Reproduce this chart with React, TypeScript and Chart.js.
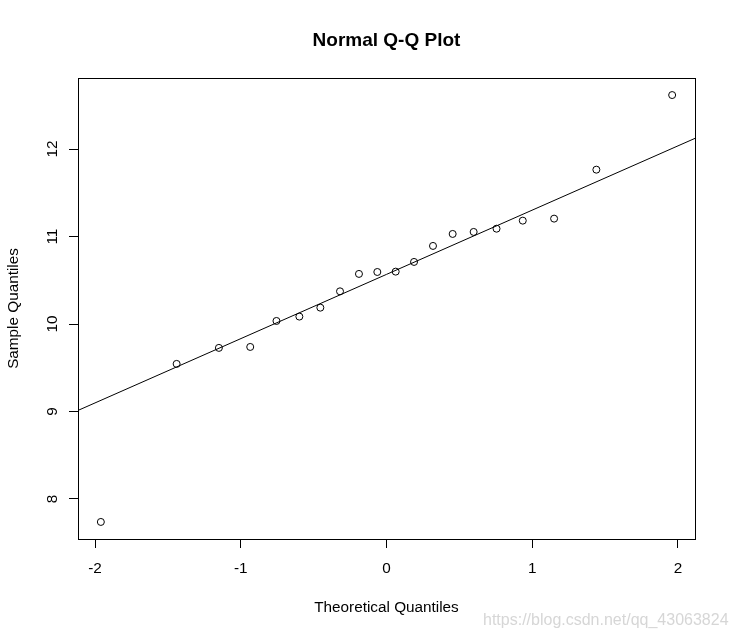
import React, { useEffect, useRef } from "react";
import { Chart, registerables } from "chart.js";

Chart.register(...registerables);

// Data
const theoreticalQuantiles = [
  -1.96, -1.44, -1.15, -0.935, -0.755, -0.598, -0.454, -0.319, -0.189, -0.063,
  0.063, 0.189, 0.319, 0.454, 0.598, 0.755, 0.935, 1.15, 1.44, 1.96,
];
const sampleQuantiles = [
  7.737, 9.544, 9.727, 9.738, 10.035, 10.085, 10.187, 10.374, 10.573, 10.595,
  10.599, 10.71, 10.893, 11.03, 11.053, 11.09, 11.182, 11.205, 11.765, 12.618,
];
const refLineX = [-2.1168, 2.1168];
const refLineY = [9.012, 12.123];
const xRange = [-2.1168, 2.1168];
const yRange = [7.542, 12.813];
const tickStep = 1;

const titleText = "Normal Q-Q Plot";
const xTitle = "Theoretical Quantiles";
const yTitle = "Sample Quantiles";
const watermark = "https://blog.csdn.net/qq_43063824";

const FONT = "'Liberation Sans', Arial, sans-serif";

const decorPlugin = {
  id: "rDecor",
  afterDraw(chart: any) {
    const { ctx, chartArea, scales } = chart;
    ctx.save();
    // box
    ctx.strokeStyle = "#000";
    ctx.lineWidth = 1;
    ctx.strokeRect(
      Math.round(chartArea.left) + 0.5,
      Math.round(chartArea.top) + 0.5,
      Math.round(chartArea.right - chartArea.left),
      Math.round(chartArea.bottom - chartArea.top)
    );
    // main title
    ctx.fillStyle = "#000";
    ctx.font = `bold 19px ${FONT}`;
    ctx.textAlign = "center";
    ctx.textBaseline = "alphabetic";
    ctx.fillText(titleText, (chartArea.left + chartArea.right) / 2, 46);
    // y tick labels (rotated, as R does)
    const ys = scales.y;
    ctx.font = `15.3px ${FONT}`;
    ys.ticks.forEach((t: any) => {
      const py = ys.getPixelForValue(t.value);
      ctx.save();
      ctx.translate(57, py);
      ctx.rotate(-Math.PI / 2);
      ctx.textAlign = "center";
      ctx.textBaseline = "alphabetic";
      ctx.fillText(String(t.value), 0, 0);
      ctx.restore();
    });
    // watermark
    ctx.font = `16px ${FONT}`;
    ctx.fillStyle = "rgba(200,200,200,0.75)";
    ctx.textAlign = "left";
    ctx.fillText(watermark, 483, 625);
    ctx.restore();
  },
};

export default function App() {
  const ref = useRef<HTMLCanvasElement | null>(null);
  useEffect(() => {
    if (!ref.current) return;
    const chart = new Chart(ref.current, {
      type: "scatter",
      data: {
        datasets: [
          {
            label: "points",
            data: theoreticalQuantiles.map((x, i) => ({ x, y: sampleQuantiles[i] })),
            pointStyle: "circle",
            pointRadius: 3.5,
            pointHoverRadius: 3.5,
            borderColor: "#000",
            backgroundColor: "rgba(0,0,0,0)",
            pointBorderWidth: 1,
            showLine: false,
          },
          {
            label: "qqline",
            data: refLineX.map((x, i) => ({ x, y: refLineY[i] })),
            showLine: true,
            pointRadius: 0,
            borderColor: "#000",
            borderWidth: 1,
            backgroundColor: "#000",
          },
        ],
      },
      options: {
        animation: false,
        responsive: false,
        events: [],
        layout: { padding: { left: 0, top: 78, right: 41, bottom: 0 } },
        plugins: {
          legend: { display: false },
          tooltip: { enabled: false },
          title: { display: false },
        },
        scales: {
          x: {
            type: "linear",
            min: xRange[0],
            max: xRange[1],
            afterFit: (s: any) => {
              s.height = 98;
            },
            border: { display: false },
            grid: { drawOnChartArea: false, drawTicks: true, tickLength: 9, color: "#000", lineWidth: 1 },
            ticks: {
              stepSize: tickStep,
              includeBounds: false,
              color: "#000",
              font: { family: FONT, size: 15.3 },
              padding: 11.5,
              maxRotation: 0,
              minRotation: 0,
            },
            title: {
              display: true,
              text: xTitle,
              color: "#000",
              font: { family: FONT, size: 15.3 },
              padding: { top: 0, bottom: 20.4 },
            },
          },
          y: {
            type: "linear",
            min: yRange[0],
            max: yRange[1],
            afterFit: (s: any) => {
              s.width = 78;
            },
            border: { display: false },
            grid: { drawOnChartArea: false, drawTicks: true, tickLength: 9, color: "#000", lineWidth: 1 },
            ticks: {
              stepSize: tickStep,
              includeBounds: false,
              display: false,
            },
            title: {
              display: true,
              text: yTitle,
              color: "#000",
              font: { family: FONT, size: 15.3 },
              padding: { top: 4.5, bottom: 0 },
            },
          },
        },
      },
      plugins: [decorPlugin],
    } as any);
    return () => chart.destroy();
  }, []);
  return (
    <div style={{ position: "fixed", left: 0, top: 0, width: 736, height: 637, background: "#fff" }}>
      <canvas ref={ref} width={736} height={637} style={{ display: "block" }} />
    </div>
  );
}
